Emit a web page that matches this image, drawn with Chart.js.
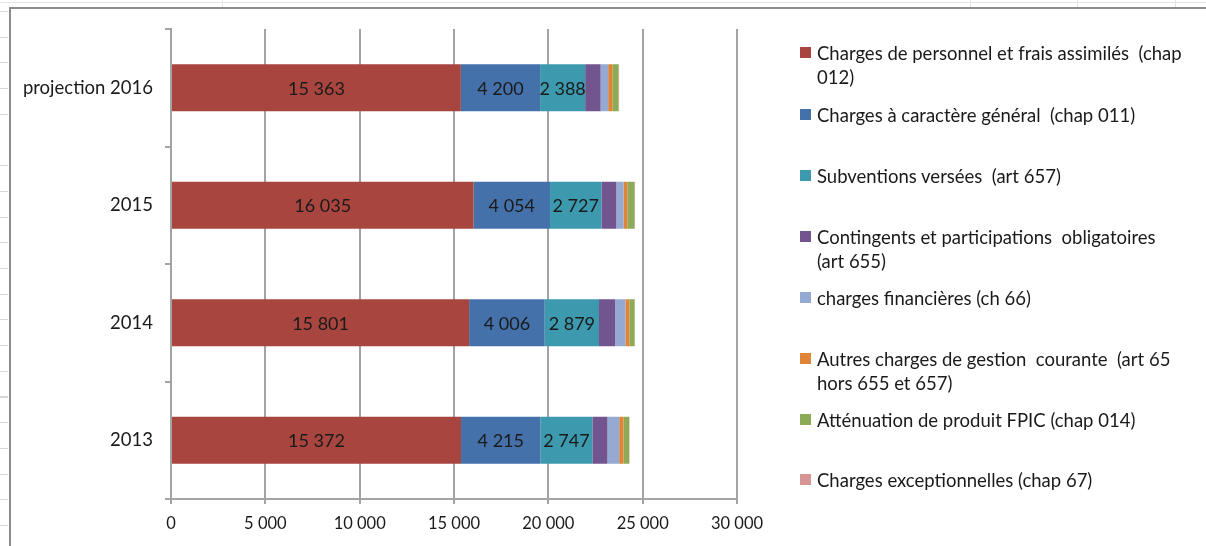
<!DOCTYPE html>
<html lang="fr">
<head>
<meta charset="utf-8">
<title>Dépenses de fonctionnement</title>
<script src="https://cdn.jsdelivr.net/npm/chart.js@4.4.1/dist/chart.umd.min.js"></script>
<style>
  html, body { margin: 0; padding: 0; background: #fff; }
  body { width: 1206px; height: 546px; position: relative; overflow: hidden; font-family: "Lato", "Open Sans", sans-serif; }
  /* worksheet backdrop behind the chart object */
  #sheetTop { position: absolute; left: 0; top: 2px; width: 1206px; height: 1px; background: #e4e4e4; }
  .colTick { position: absolute; top: 0; width: 1px; height: 7px; background: #e4e4e4; }
  #rowTicks { position: absolute; left: 0; top: 0; width: 8px; height: 546px;
    background: repeating-linear-gradient(to bottom, transparent 0, transparent 11px, #d8d8d8 11px, #d8d8d8 12px, transparent 12px, transparent 25.7px); }
  #frame { position: absolute; left: 9px; top: 7px; width: 1197px; height: 539px; background: #fff;
    border-top: 2px solid #8c8c8c; border-left: 2px solid #8c8c8c; box-sizing: border-box; }
  #wrap { position: absolute; left: 0; top: 0; width: 1206px; height: 546px; }
  #legend { position: absolute; left: 0; top: 0; width: 1206px; height: 546px; pointer-events: none; }
  .item { position: absolute; left: 800px; width: 406px; display: flex; align-items: flex-start; }
  .sw { width: 11px; height: 11px; margin-top: 6px; flex: none; }
  .tx { margin-left: 6px; width: 388px; font-size: 18.5px; line-height: 24px; color: #1a1a1a; white-space: pre-wrap; }
</style>
</head>
<body>
<div id="sheetTop"></div>
<div class="colTick" style="left:222px"></div>
<div class="colTick" style="left:970px"></div>
<div class="colTick" style="left:1077px"></div>
<div class="colTick" style="left:1175px"></div>
<div id="rowTicks"></div>
<div id="frame"></div>
<div id="wrap"><canvas id="chart" width="1206" height="546"></canvas></div>
<div id="legend"></div>
<script>
// Années (de haut en bas)
const categories = ['projection 2016', '2015', '2014', '2013'];

// Montants par poste de dépense (k€)
const chargesPersonnel   = [15363, 16035, 15801, 15372];
const chargesGenerales   = [4200, 4054, 4006, 4215];
const subventions        = [2388, 2727, 2879, 2747];
const contingents        = [820, 790, 850, 800];
const chargesFinancieres = [400, 380, 550, 620];
const autresCharges      = [220, 200, 210, 230];
const attenuationFPIC    = [330, 370, 270, 300];
const chargesExcept      = [30, 40, 30, 20];

// Graduations de l'axe horizontal
const xTicks = [0, 5000, 10000, 15000, 20000, 25000, 30000];

const seriesNames = [
  'Charges de personnel et frais assimilés  (chap 012)',
  'Charges à caractère général  (chap 011)',
  'Subventions versées  (art 657)',
  'Contingents et participations  obligatoires (art\u00a0655)',
  'charges financières (ch 66)',
  'Autres charges de gestion  courante  (art 65 hors 655 et 657)',
  'Atténuation de produit FPIC (chap 014)',
  'Charges exceptionnelles (chap 67)'
];
const seriesValues = [chargesPersonnel, chargesGenerales, subventions, contingents,
  chargesFinancieres, autresCharges, attenuationFPIC, chargesExcept];
const seriesColors = ['#a8453f', '#4571aa', '#3d9aae', '#72558f', '#95aad3', '#e08538', '#8daa56', '#d69593'];

const fmt = n => String(n).replace(/\B(?=(\d{3})+(?!\d))/g, ' ');

const FONT = '"Lato", "Open Sans", sans-serif';
Chart.defaults.font.family = FONT;
Chart.defaults.font.size = 16;
Chart.defaults.color = '#1a1a1a';

// Étiquettes de valeur centrées dans les trois premiers segments
const segmentLabels = {
  id: 'segmentLabels',
  afterDatasetsDraw(chart) {
    const ctx = chart.ctx;
    ctx.save();
    ctx.font = '18px ' + FONT;
    ctx.fillStyle = '#1a1a1a';
    ctx.textAlign = 'center';
    ctx.textBaseline = 'middle';
    [0, 1, 2].forEach(di => {
      const meta = chart.getDatasetMeta(di);
      meta.data.forEach((bar, i) => {
        const v = chart.data.datasets[di].data[i];
        ctx.fillText(fmt(v), (bar.x + bar.base) / 2, bar.y + 1);
      });
    });
    ctx.restore();
  }
};

const chart = new Chart(document.getElementById('chart'), {
  type: 'bar',
  data: {
    labels: categories,
    datasets: seriesValues.map((vals, k) => ({
      label: seriesNames[k],
      data: vals,
      backgroundColor: seriesColors[k],
      borderWidth: 0,
      categoryPercentage: 1,
      barPercentage: 0.4
    }))
  },
  options: {
    indexAxis: 'y',
    responsive: false,
    animation: false,
    layout: { padding: { top: 29, right: 469, left: 0, bottom: 0 } },
    plugins: { legend: { display: false }, tooltip: { enabled: false } },
    scales: {
      x: {
        stacked: true,
        min: 0,
        max: 30000,
        afterBuildTicks: s => { s.ticks = xTicks.map(v => ({ value: v })); },
        afterFit: s => { s.height = 47; },
        ticks: { callback: v => fmt(v), padding: 10, maxRotation: 0, font: { size: 16.5 } },
        grid: { color: '#a3a3a3', lineWidth: 2, tickLength: 5, tickColor: '#a3a3a3' },
        border: { color: '#a3a3a3', width: 2 }
      },
      y: {
        stacked: true,
        afterFit: s => { s.width = 171; },
        ticks: { padding: 12, font: { size: 18.5 } },
        grid: { drawOnChartArea: false, color: '#a3a3a3', tickLength: 6, lineWidth: 2 },
        border: { color: '#a3a3a3', width: 2 }
      }
    }
  },
  plugins: [segmentLabels]
});

// Légende à droite, construite à partir des séries du graphique
const legend = document.getElementById('legend');
const itemTops = [41, 103, 164, 225, 286, 347, 408, 468];
chart.data.datasets.forEach((ds, k) => {
  const item = document.createElement('div');
  item.className = 'item';
  item.style.top = itemTops[k] + 'px';
  const sw = document.createElement('div');
  sw.className = 'sw';
  sw.style.background = ds.backgroundColor;
  const tx = document.createElement('div');
  tx.className = 'tx';
  tx.textContent = ds.label;
  item.appendChild(sw);
  item.appendChild(tx);
  legend.appendChild(item);
});
</script>
</body>
</html>
